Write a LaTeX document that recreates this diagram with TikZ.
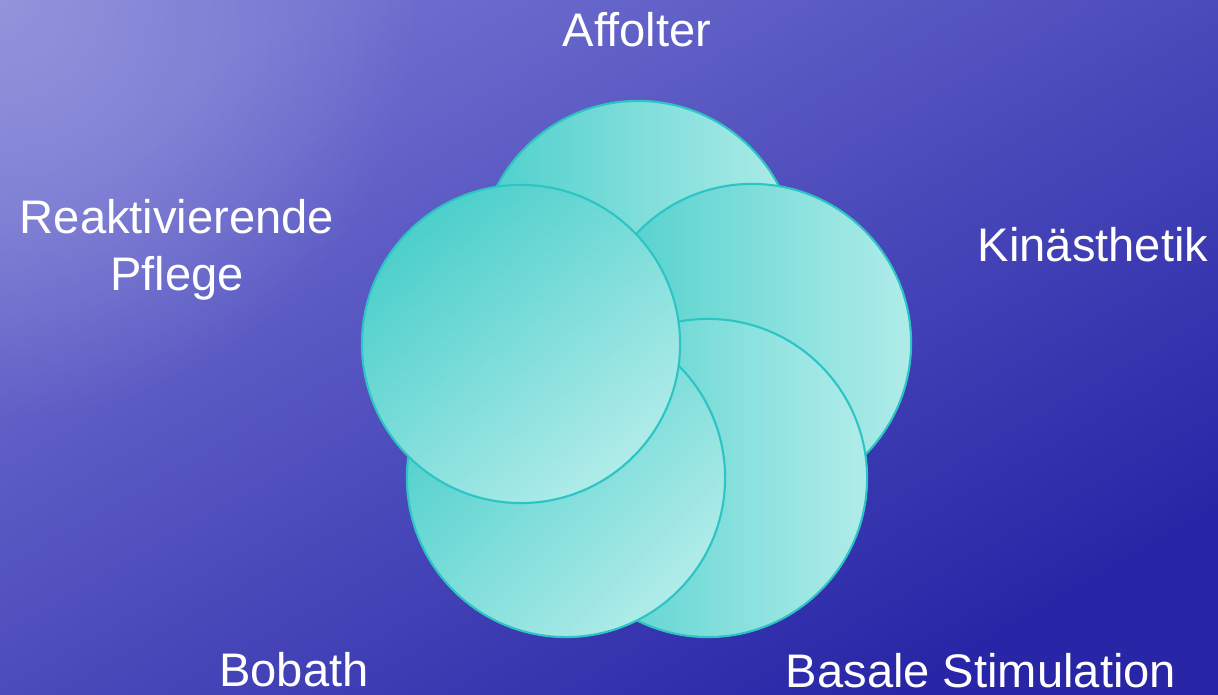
\documentclass[tikz,border=0pt]{standalone}
\usepackage{fontspec}
\setmainfont{Liberation Sans}
\usepackage{tikz}
\usetikzlibrary{positioning, fadings}
\definecolor{bglight}{RGB}{160,160,224}
\definecolor{bgtop}{RGB}{112,112,208}
\definecolor{bgmid}{RGB}{68,66,188}
\definecolor{bgdark}{RGB}{40,38,166}
\definecolor{petaldark}{RGB}{76,207,203}
\definecolor{petalmid}{RGB}{148,226,223}
\definecolor{petallight}{RGB}{176,236,233}
\definecolor{petaledge}{RGB}{44,196,196}
\tikzfading[name=glowfade, inner color=transparent!25, outer color=transparent!100]
\tikzset{
  petal/.style={circle, draw=petaledge, line width=0.6pt,
    minimum size=3.18cm, inner sep=0pt,
    left color=petaldark, middle color=petalmid, right color=petallight,
    shading angle=#1},
  petal/.default=90,
  caption/.style={text=white, font=\fontsize{13.4}{16.2}\selectfont,
    inner sep=0pt, align=center}
}

\begin{document}
\begin{tikzpicture}[x=0.01cm, y=-0.01cm]
% background
\useasboundingbox (0,0) rectangle (1218,695);
\shade[top color=bgtop, middle color=bgmid, bottom color=bgdark, shading angle=30]
  (0,0) rectangle (1218,695);
\fill[bglight, path fading=glowfade] (0,0) circle (420);

% five overlapping circles, bottom one first
\node[petal] (affolter) at (638,260) {};
\node[petal] (kinaesthetik) at (752,343) {};
\node[petal] (basale) at (708,478) {};
\node[petal=45] (bobath) at (566,478) {};
\node[petal=40] (reakt) at (521,344) {};

% labels
\node[caption, anchor=base] (laff) at (637,47) {Affolter};
\node[caption, anchor=base] (lkin) at (1093,262) {Kinästhetik};
\node[caption] (lreakt) at (177,250) {Reaktivierende\\Pflege};
\node[caption, anchor=base] (lbob) at (294,687) {Bobath};
\node[caption, anchor=base] (lbas) at (981,688) {Basale Stimulation};
\end{tikzpicture}
\end{document}
